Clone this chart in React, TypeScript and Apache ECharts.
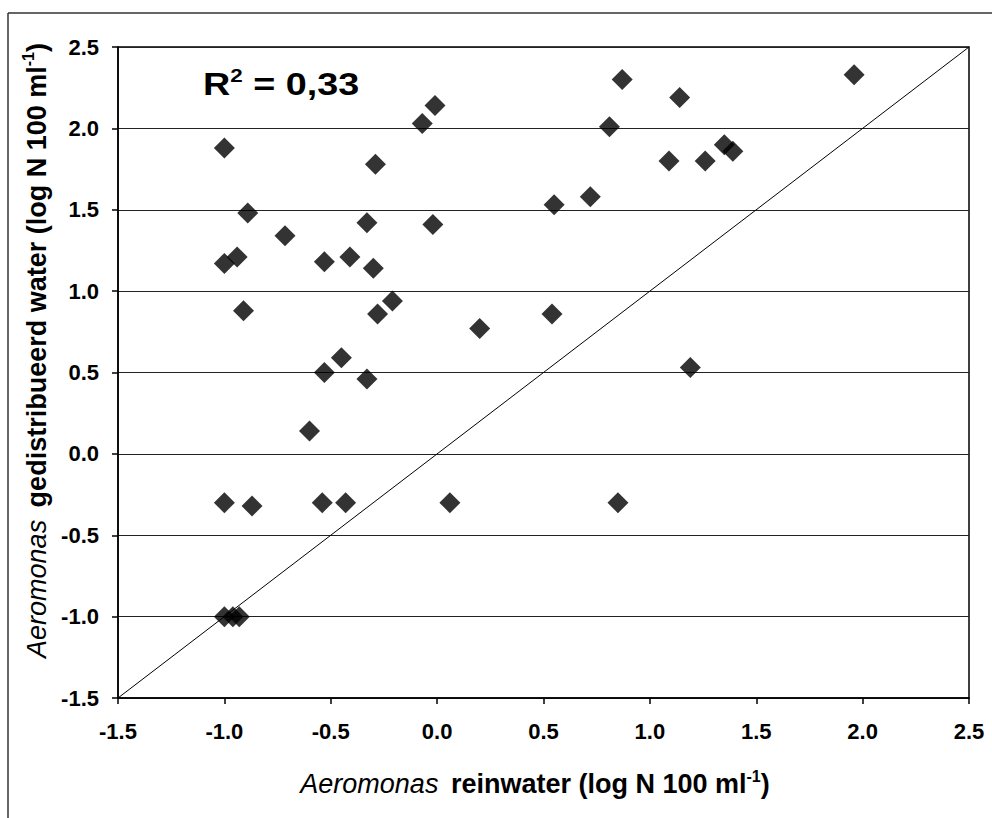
import React, { useEffect, useRef } from "react";
import * as echarts from "echarts";

// Aeromonas, log N per 100 ml
const reinwater = [
  -1.0, -0.01, -0.07, -0.29, -0.89, -0.715, -0.33, -0.02, -1.0, -0.94,
  -0.53, -0.41, -0.3, -0.21, -0.28, -0.91, 0.2, -0.45, -0.53, -0.33,
  1.96, 0.87, 1.14, 0.81, 1.35, 1.39, 1.09, 1.26, 0.55, 0.72,
  0.54, 1.19, -0.6, -1.0, -0.87, -0.54, -0.43, 0.06, -1.0, -0.96,
  -0.93, 0.85,
];
const gedistribueerd = [
  1.88, 2.14, 2.03, 1.78, 1.48, 1.34, 1.42, 1.41, 1.17, 1.21,
  1.18, 1.21, 1.14, 0.94, 0.86, 0.88, 0.77, 0.59, 0.5, 0.46,
  2.33, 2.3, 2.19, 2.01, 1.9, 1.86, 1.8, 1.8, 1.53, 1.58,
  0.86, 0.53, 0.14, -0.3, -0.32, -0.3, -0.3, -0.3, -1.0, -1.0,
  -1.0, -0.3,
];
const identityLine = [
  [-1.5, -1.5],
  [2.5, 2.5],
];
const axisMin = -1.5;
const axisMax = 2.5;
const axisStep = 0.5;
const r2Label = "0,33";

const FONT = "'Liberation Sans', Arial, sans-serif";

export default function App() {
  const ref = useRef<HTMLDivElement>(null);

  useEffect(() => {
    document.body.style.margin = "0";
    if (!ref.current) return;
    const chart = echarts.init(ref.current, null, { renderer: "svg" });

    const points = reinwater.map((x, i) => [x, gedistribueerd[i]]);

    const richName = {
      i: { fontFamily: FONT, fontStyle: "italic", fontWeight: "normal", fontSize: 27, color: "#000", lineHeight: 32, padding: [0, 5, 0, 0] },
      b: { fontFamily: FONT, fontWeight: "bold", fontSize: 27, color: "#000", lineHeight: 32 },
      s: { fontFamily: FONT, fontWeight: "bold", fontSize: 16, color: "#000", lineHeight: 18, verticalAlign: "top" },
    };

    const axisCommon = {
      type: "value",
      min: axisMin,
      max: axisMax,
      interval: axisStep,
      axisLine: { show: true, onZero: false, lineStyle: { color: "#000", width: 1.5 } },
      axisTick: { show: true, inside: false, length: 6, lineStyle: { color: "#000", width: 1.5 } },
      axisLabel: {
        fontFamily: FONT,
        fontWeight: "bold",
        fontSize: 22,
        color: "#000",
        formatter: (v: number) => v.toFixed(1),
      },
      nameLocation: "middle",
    };

    chart.setOption({
      animation: false,
      backgroundColor: "#fff",
      grid: {
        left: 118,
        top: 47,
        right: 23,
        bottom: 120,
        show: true,
        borderColor: "#000",
        borderWidth: 1.5,
        containLabel: false,
      },
      xAxis: {
        ...axisCommon,
        axisLabel: { ...axisCommon.axisLabel, margin: 22 },
        splitLine: { show: false },
        name: "{i|Aeromonas }{b|reinwater (log N 100 ml}{s|-1}{b|)}",
        nameGap: 70,
        nameTextStyle: { rich: richName, padding: [0, 17, 0, 0] },
      },
      yAxis: {
        ...axisCommon,
        axisLabel: { ...axisCommon.axisLabel, margin: 19 },
        splitLine: { show: true, lineStyle: { color: "#222", width: 1 } },
        name: "{i|Aeromonas }{b|gedistribueerd water (log N 100 ml}{s|-1}{b|)}",
        nameRotate: 90,
        nameGap: 62,
        nameTextStyle: { rich: richName, padding: [0, 0, 0, 44] },
      },
      graphic: [
        { type: "line", shape: { x1: 8, y1: 13, x2: 992, y2: 13 }, style: { stroke: "#333", lineWidth: 1.5 } },
        { type: "line", shape: { x1: 8, y1: 13, x2: 8, y2: 818 }, style: { stroke: "#333", lineWidth: 1.5 } },
        {
          type: "text",
          x: 203,
          y: 84,
          scaleX: 1.18,
          style: {
            text: "{r|R}{s|2}{r| = " + r2Label + "}",
            verticalAlign: "middle",
            align: "left",
            rich: {
              r: { fontFamily: FONT, fontWeight: "bold", fontSize: 32, fill: "#000", lineHeight: 36 },
              s: { fontFamily: FONT, fontWeight: "bold", fontSize: 19, fill: "#000", lineHeight: 22, verticalAlign: "top" },
            },
          },
        },
      ],
      series: [
        {
          type: "line",
          data: identityLine,
          showSymbol: false,
          symbol: "none",
          lineStyle: { color: "#000", width: 1 },
          silent: true,
          z: 2,
        },
        {
          type: "scatter",
          data: points,
          symbol: "diamond",
          symbolSize: 21,
          itemStyle: { color: "#000" },
          z: 3,
        },
      ],
    });

    return () => chart.dispose();
  }, []);

  return <div ref={ref} style={{ width: 992, height: 818, overflow: "hidden" }} />;
}
